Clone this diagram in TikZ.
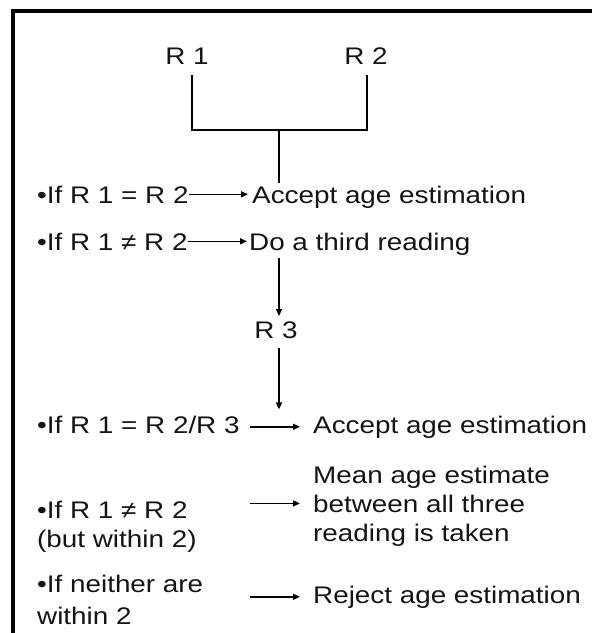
\documentclass[tikz,border=0pt]{standalone}
\usepackage{fontspec}
\setmainfont[FakeStretch=1.16]{Liberation Sans}
\usetikzlibrary{arrows.meta}
\begin{document}
\begin{tikzpicture}[x=1pt,y=-1pt,
  txt/.style={font=\fontsize{24}{28}\selectfont, inner sep=0pt, anchor=base west, text=black!92},
  rd/.style={txt, anchor=base},
  brk/.style={line width=2pt},
  arr/.style={line width=1.5pt, -{Triangle[length=7pt,width=6pt]}},
  frame/.style={line width=4.5pt, line join=miter}]
\fill[white] (0,0) rectangle (592,633);
\useasboundingbox (0,0) rectangle (592,633);
\draw[frame] (13,633) -- (13,11) -- (592,11);

% readings 1 and 2 with bracket
\node[rd] (R1) at (187,64) {R 1};
\node[rd] (R2) at (366,64) {R 2};
\coordinate (J) at (279,130);
\draw[brk] ([xshift=5pt,yshift=-11pt]R1.south) |- (J) -| ([xshift=1pt,yshift=-11pt]R2.south);

% first decisions
\node[txt] (c1l) at (37,203) {•If R 1 = R 2};
\node[txt] (c1r) at (252,203) {Accept age estimation};
\draw[brk] (J) -- ([yshift=2pt]J |- c1l.north);
\draw[arr, shorten >=4pt] (c1l.east) -- (c1l.east -| c1r.west);

\node[txt] (c2l) at (37,250) {•If R 1 ≠ R 2};
\node[txt] (c2r) at (249,250) {Do a third reading};
\draw[arr, shorten >=2pt] (c2l.east) -- (c2l.east -| c2r.west);

% third reading
\node[rd] (R3) at (276,338) {R 3};
\draw[arr] ([yshift=-3pt]c2r.south -| J) -- ([yshift=5pt]R3.north -| J);

% second decisions
\coordinate (A) at (250,0);
\coordinate (B) at (300,0);

\node[txt] (c3l) at (37,433) {•If R 1 = R 2/R 3};
\node[txt] (c3r) at (313,433) {Accept age estimation};
\draw[arr] ([yshift=-10pt]R3.south -| J) -- ([yshift=6pt]c3l.north -| J);
\draw[arr] (A |- c3r.west) -- (B |- c3r.west);

\node[txt] (c4l1) at (37,518) {•If R 1 ≠ R 2};
\node[txt] (c4l2) at (37,547) {(but within 2)};
\node[txt] (c4r1) at (313,483) {Mean age estimate};
\node[txt] (c4r2) at (313,512) {between all three};
\node[txt] (c4r3) at (313,541) {reading is taken};
\draw[arr] (A |- c4r2.west) -- (B |- c4r2.west);

\node[txt] (c5l1) at (37,592) {•If neither are};
\node[txt] (c5l2) at (37,624) {within 2};
\node[txt] (c5r) at (313,603) {Reject age estimation};
\draw[arr] (A |- c5r.west) -- (B |- c5r.west);
\end{tikzpicture}
\end{document}
